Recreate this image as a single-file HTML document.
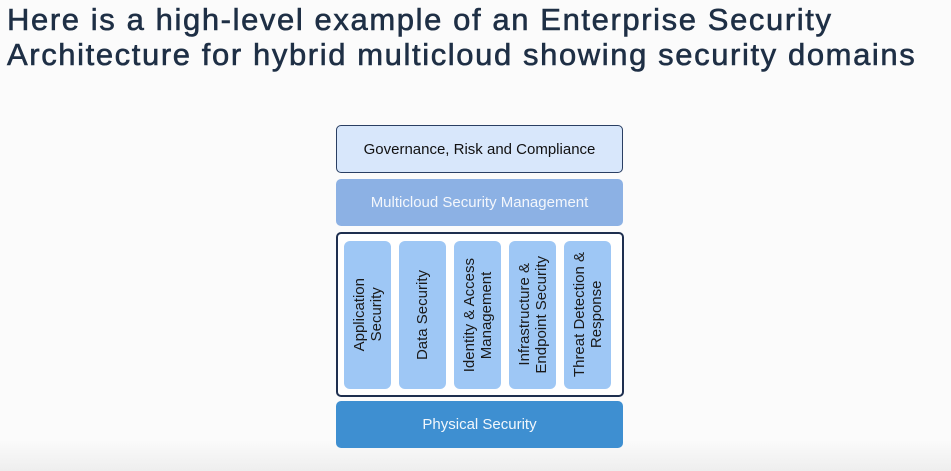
<!DOCTYPE html>
<html><head><style>
body{margin:0;width:951px;height:471px;background:linear-gradient(#fbfbfb 0,#fbfbfb 440px,#eeeeee 471px);font-family:"Liberation Sans",sans-serif;position:relative;overflow:hidden}
.t{position:absolute;left:7px;top:2px;font-size:31px;letter-spacing:1.6px;line-height:35px;color:#1e2f45;white-space:nowrap;-webkit-text-stroke:0.6px #1e2f45}
.b{position:absolute;box-sizing:border-box;display:flex;align-items:center;justify-content:center;font-size:15px;border-radius:5px}
.c{position:absolute;top:241px;width:47px;height:148px;background:#9ec7f5;border-radius:6px;display:flex;align-items:center;justify-content:center}
.c span{writing-mode:vertical-rl;transform:rotate(180deg);font-size:15px;color:#1a1a1a;text-align:center;line-height:17px;white-space:nowrap}
</style></head><body>
<div class="t">Here is a high-level example of an Enterprise Security<br>Architecture for hybrid multicloud showing security domains</div>
<div class="b" style="left:336px;top:125px;width:287px;height:48px;background:#d8e7fb;border:1.5px solid #2a3f63;color:#111">Governance, Risk and Compliance</div>
<div class="b" style="left:336px;top:179px;width:287px;height:47px;background:#8cb1e4;color:#f4f7fc">Multicloud Security Management</div>
<div class="b" style="left:336px;top:232px;width:288px;height:165px;background:#fff;border:2px solid #1e2f4f"></div>
<div class="c" style="left:344px"><span>Application<br>Security</span></div>
<div class="c" style="left:399px"><span>Data Security</span></div>
<div class="c" style="left:454px"><span>Identity &amp; Access<br>Management</span></div>
<div class="c" style="left:509px"><span>Infrastructure &amp;<br>Endpoint Security</span></div>
<div class="c" style="left:564px"><span>Threat Detection &amp;<br>Response</span></div>
<div class="b" style="left:336px;top:401px;width:287px;height:47px;background:#3e8fd1;color:#f2f7fc">Physical Security</div>
</body></html>
